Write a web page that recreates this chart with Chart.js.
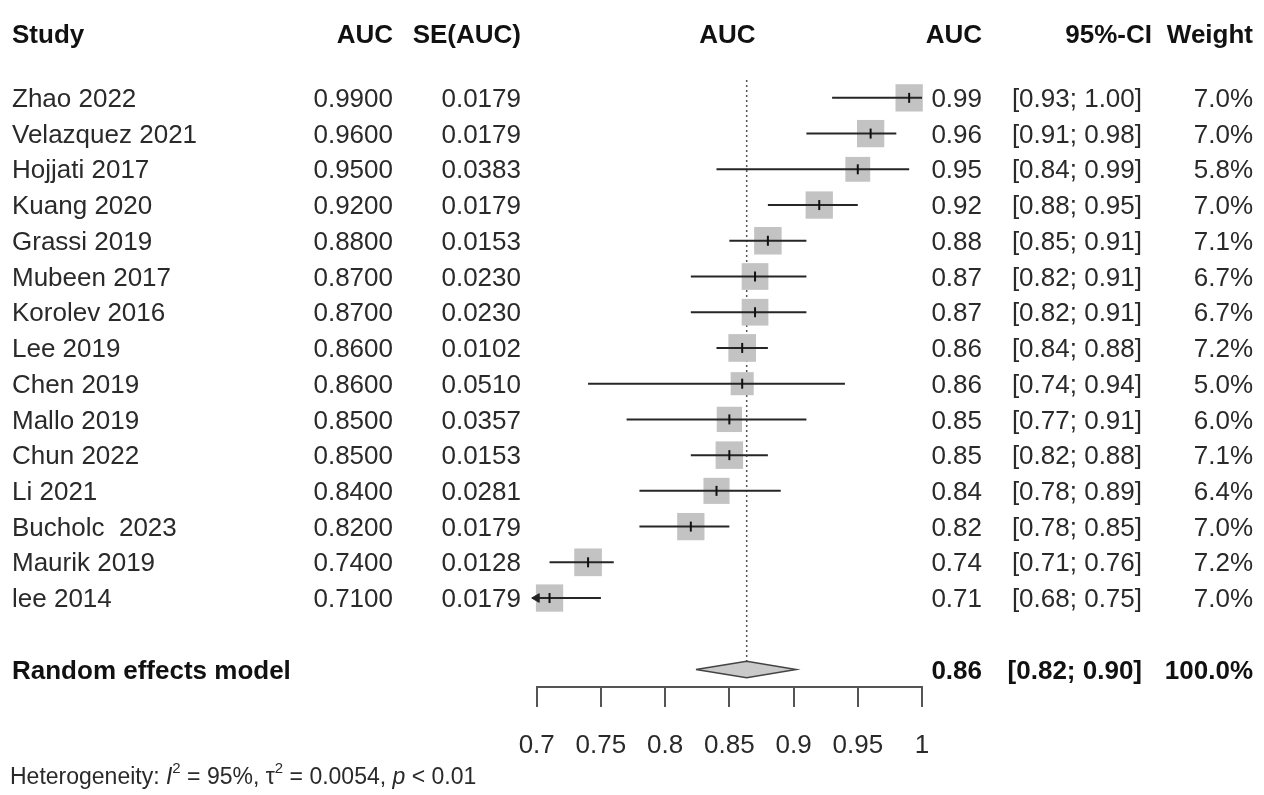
<!DOCTYPE html>
<html>
<head>
<meta charset="utf-8">
<title>Forest plot - AUC</title>
<script src="https://cdn.jsdelivr.net/npm/chart.js@4.4.1/dist/chart.umd.min.js"></script>
<style>
  html, body { margin: 0; padding: 0; background: #fff; }
  canvas { display: block; }
</style>
</head>
<body>
<canvas id="forest" width="1264" height="795"></canvas>
<script>
// study data
const studies = ["Zhao 2022", "Velazquez 2021", "Hojjati 2017", "Kuang 2020", "Grassi 2019",
  "Mubeen 2017", "Korolev 2016", "Lee 2019", "Chen 2019", "Mallo 2019", "Chun 2022",
  "Li 2021", "Bucholc  2023", "Maurik 2019", "lee 2014"];
const auc = [0.99, 0.96, 0.95, 0.92, 0.88, 0.87, 0.87, 0.86, 0.86, 0.85, 0.85, 0.84, 0.82, 0.74, 0.71];
const seAuc = [0.0179, 0.0179, 0.0383, 0.0179, 0.0153, 0.0230, 0.0230, 0.0102, 0.0510, 0.0357,
  0.0153, 0.0281, 0.0179, 0.0128, 0.0179];
const ciLow = [0.93, 0.91, 0.84, 0.88, 0.85, 0.82, 0.82, 0.84, 0.74, 0.77, 0.82, 0.78, 0.78, 0.71, 0.68];
const ciHigh = [1.00, 0.98, 0.99, 0.95, 0.91, 0.91, 0.91, 0.88, 0.94, 0.91, 0.88, 0.89, 0.85, 0.76, 0.75];
const weights = [7.0, 7.0, 5.8, 7.0, 7.1, 6.7, 6.7, 7.2, 5.0, 6.0, 7.1, 6.4, 7.0, 7.2, 7.0];

// random effects model
const pooledAuc = 0.8635;
const pooledLow = 0.824;
const pooledHigh = 0.902;
const pooledLabel = ["0.86", "[0.82; 0.90]", "100.0%"];

const xTicks = [0.7, 0.75, 0.8, 0.85, 0.9, 0.95, 1];
const xMin = 0.7, xMax = 1;
const pooledRow = studies.length + 1;

const FONT = "'Liberation Sans', Arial, sans-serif";
const TEXT = "#2a2a2a";

// CI segments, clipped at the axis limits
const ciSets = studies.map((s, i) => ({
  type: "line",
  data: [{ x: Math.max(ciLow[i], xMin), y: i }, { x: Math.min(ciHigh[i], xMax), y: i }],
  borderColor: "#262626",
  borderWidth: 2,
  pointRadius: 0,
  clip: false,
  order: 1
}));

const arrowData = [];
ciLow.forEach((lo, i) => { if (lo < xMin) arrowData.push({ x: xMin, y: i }); });

const datasets = [
  {
    // estimate marks
    type: "scatter",
    data: auc.map((v, i) => ({ x: v, y: i })),
    pointStyle: "line",
    rotation: 90,
    pointRadius: 5,
    borderColor: "#111",
    borderWidth: 2,
    clip: false,
    order: 0
  },
  {
    type: "scatter",
    data: arrowData,
    pointStyle: "triangle",
    rotation: -90,
    pointRadius: 5,
    backgroundColor: "#222",
    borderColor: "#222",
    borderWidth: 1,
    clip: false,
    order: 0
  },
  ...ciSets,
  {
    // weight boxes
    type: "scatter",
    data: auc.map((v, i) => ({ x: v, y: i })),
    pointStyle: "rect",
    pointRadius: ctx => 19.3 * Math.sqrt(weights[ctx.dataIndex] / 7),
    backgroundColor: "#c3c3c3",
    borderWidth: 0,
    clip: false,
    order: 2
  },
  {
    // summary diamond
    type: "line",
    data: [
      { x: pooledLow, y: pooledRow },
      { x: pooledAuc, y: pooledRow - 0.23 },
      { x: pooledHigh, y: pooledRow },
      { x: pooledAuc, y: pooledRow + 0.23 },
      { x: pooledLow, y: pooledRow }
    ],
    fill: "shape",
    backgroundColor: "#cacaca",
    borderColor: "#444",
    borderWidth: 1.5,
    pointRadius: 0,
    tension: 0,
    clip: false,
    order: 3
  },
  {
    // dotted line at pooled estimate
    type: "line",
    data: [{ x: pooledAuc, y: -0.5 }, { x: pooledAuc, y: pooledRow - 0.23 }],
    borderColor: "#555",
    borderWidth: 1.5,
    borderDash: [2, 3],
    pointRadius: 0,
    clip: false,
    order: 4
  }
];

// text columns
const tablePlugin = {
  id: "forestText",
  afterDraw(chart) {
    const ctx = chart.ctx;
    const ys = chart.scales.y;
    const xs = chart.scales.x;
    ctx.save();
    ctx.textBaseline = "middle";

    function put(txt, x, y, align, bold) {
      ctx.font = (bold ? "bold " : "") + "26px " + FONT;
      ctx.fillStyle = bold ? "#111" : TEXT;
      ctx.textAlign = align;
      ctx.fillText(txt, x, y + 2);
    }

    // header
    const hy = 34;
    put("Study", 12, hy, "left", true);
    put("AUC", 393, hy, "right", true);
    put("SE(AUC)", 521, hy, "right", true);
    put("AUC", (xs.left + xs.right) / 2 - 2, hy, "center", true);
    put("AUC", 982, hy, "right", true);
    put("95%-CI", 1152, hy, "right", true);
    put("Weight", 1253, hy, "right", true);

    studies.forEach((s, i) => {
      const y = ys.getPixelForValue(i);
      put(s, 12, y, "left");
      put(auc[i].toFixed(4), 393, y, "right");
      put(seAuc[i].toFixed(4), 521, y, "right");
      put(auc[i].toFixed(2), 982, y, "right");
      put("[" + ciLow[i].toFixed(2) + "; " + ciHigh[i].toFixed(2) + "]", 1142, y, "right");
      put(weights[i].toFixed(1) + "%", 1253, y, "right");
    });

    const py = ys.getPixelForValue(pooledRow);
    put("Random effects model", 12, py, "left", true);
    put(pooledLabel[0], 982, py, "right", true);
    put(pooledLabel[1], 1142, py, "right", true);
    put(pooledLabel[2], 1253, py, "right", true);

    // heterogeneity line
    let x = 10;
    const hy2 = 778;
    ctx.textAlign = "left";
    ctx.fillStyle = TEXT;
    const parts = [
      ["Heterogeneity: ", "", 0, 23],
      ["I", "italic ", 0, 23],
      ["2", "", -9, 15],
      [" = 95%, ", "", 0, 23],
      ["\u03c4", "", 0, 23],
      ["2", "", -9, 15],
      [" = 0.0054, ", "", 0, 23],
      ["p", "italic ", 0, 23],
      [" < 0.01", "", 0, 23]
    ];
    parts.forEach(p => {
      ctx.font = p[1] + p[3] + "px " + FONT;
      ctx.fillText(p[0], x, hy2 + p[2]);
      x += ctx.measureText(p[0]).width;
    });
    ctx.restore();
  }
};

new Chart(document.getElementById("forest"), {
  data: { datasets: datasets },
  options: {
    responsive: false,
    animation: false,
    layout: { padding: { left: 536.7, right: 342, top: 80, bottom: 0 } },
    plugins: { legend: { display: false }, tooltip: { enabled: false } },
    scales: {
      x: {
        type: "linear",
        min: xMin,
        max: xMax,
        afterBuildTicks: axis => { axis.ticks = xTicks.map(v => ({ value: v })); },
        afterFit: axis => { axis.height = 108; },
        grid: { drawOnChartArea: false, drawTicks: true, tickLength: 20, color: "#555", lineWidth: 2 },
        border: { display: true, color: "#555", width: 2 },
        ticks: {
          padding: 23,
          color: TEXT,
          font: { family: FONT, size: 26 },
          maxRotation: 0,
          callback: v => String(+v.toFixed(2))
        }
      },
      y: {
        type: "linear",
        display: false,
        reverse: true,
        min: -0.5,
        max: 16.49
      }
    }
  },
  plugins: [tablePlugin]
});
</script>
</body>
</html>
